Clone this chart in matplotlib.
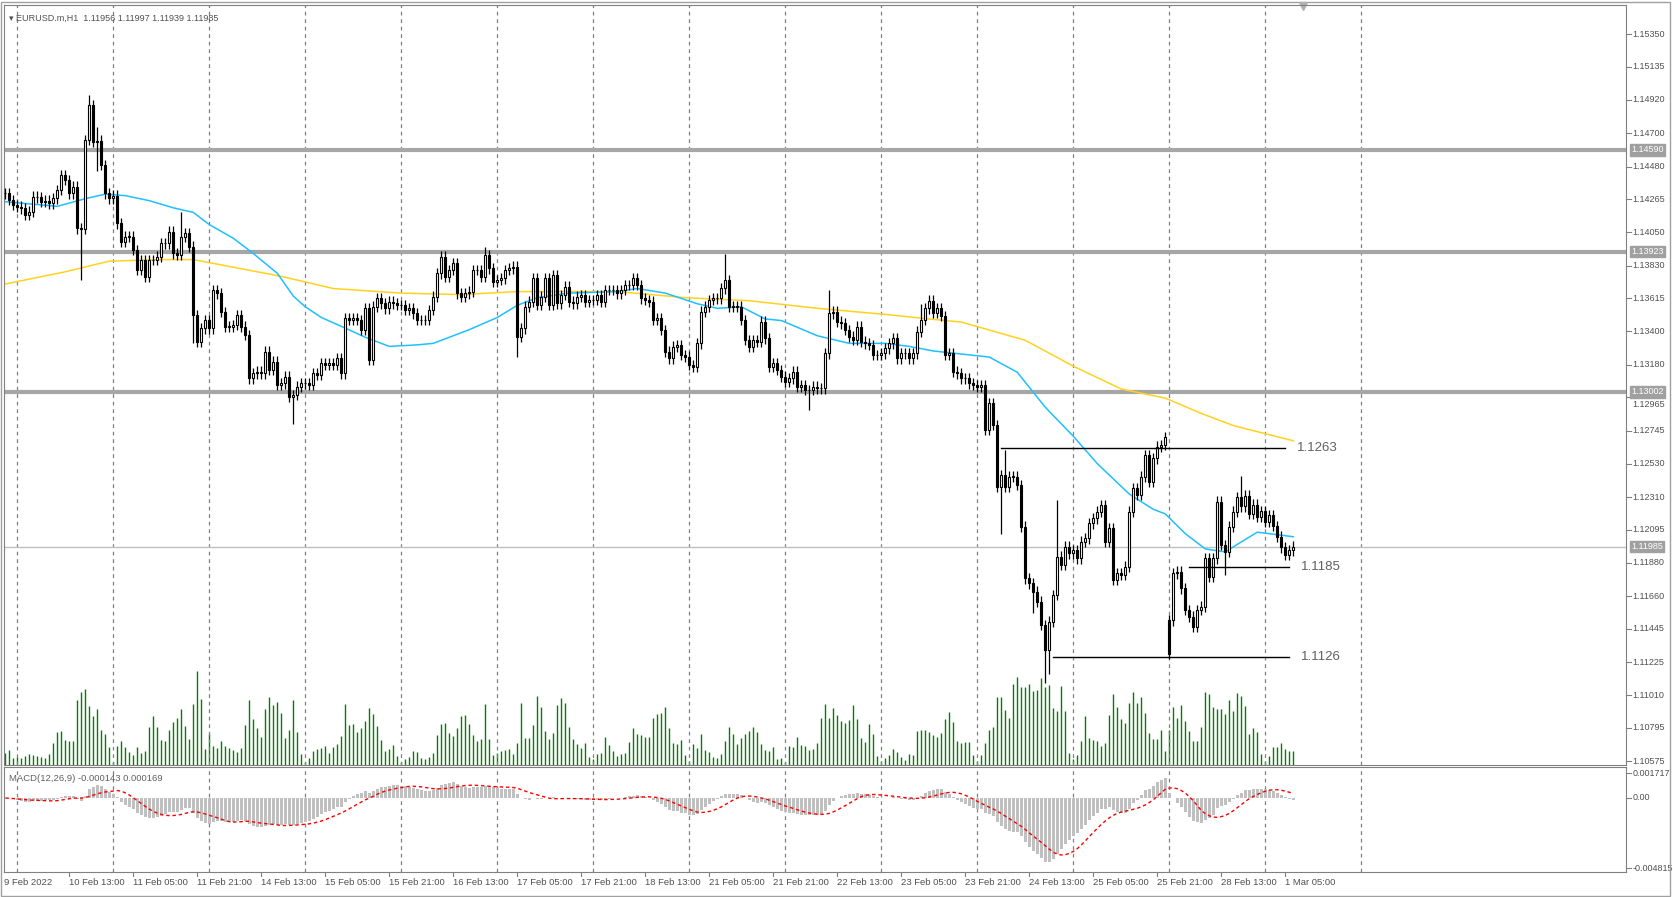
import numpy as np
import pandas as pd
import matplotlib
matplotlib.use("Agg")
import matplotlib.pyplot as plt

plt.rcParams['font.family'] = ['Liberation Sans', 'DejaVu Sans']

# ---------------- data ----------------
closes = [
 1.14305,1.14261,1.14228,1.14217,1.14206,1.14162,1.14184,1.14283,1.14279,1.14250,1.14257,1.14239,1.14272,1.14327,1.14425,1.14392,1.14305,1.14349,
 1.14075,1.14070,1.14655,1.14885,1.14644,1.14650,1.14491,1.14305,1.14272,1.14290,
 1.14108,1.13987,1.14020,1.14020,1.13933,1.13801,1.13867,1.13757,1.13867,1.13867,1.13889,1.13976,1.13976,1.14053,1.13911,1.13900,1.14020,1.14042,1.13955,
 1.13506,1.13330,1.13418,1.13473,1.13418,1.13670,1.13648,1.13527,1.13429,1.13429,1.13440,1.13506,1.13429,1.13374,
 1.13090,1.13123,1.13134,1.13123,1.13265,1.13145,1.13199,1.13046,1.13057,1.13101,1.12969,1.12980,1.13035,1.13057,1.13057,1.13046,1.13123,1.13112,1.13188,1.13177,1.13188,1.13177,1.13221,1.13123,
 1.13484,1.13473,1.13484,1.13473,1.13407,1.13550,1.13210,1.13561,1.13615,1.13583,1.13550,1.13593,1.13583,1.13572,1.13572,1.13539,1.13550,1.13517,1.13473,1.13473,1.13473,1.13539,1.13626,1.13779,1.13889,1.13757,1.13801,1.13845,1.13648,
 1.13626,1.13648,1.13659,1.13801,1.13801,1.13757,1.13900,1.13812,1.13725,1.13736,1.13747,1.13801,1.13812,1.13823,1.13363,1.13418,1.13561,1.13593,1.13747,1.13572,
 1.13626,1.13747,1.13572,1.13768,1.13583,1.13637,1.13692,1.13593,1.13583,1.13626,1.13637,1.13593,1.13604,1.13604,1.13637,1.13593,1.13670,1.13670,1.13670,1.13648,
 1.13670,1.13703,1.13703,1.13747,1.13703,1.13615,1.13604,1.13593,1.13473,1.13484,1.13407,1.13265,1.13221,1.13298,1.13309,1.13243,1.13232,1.13177,1.13166,1.13320,
 1.13528,1.13561,1.13604,1.13615,1.13615,1.13681,1.13736,1.13561,1.13561,1.13561,1.13473,1.13342,1.13298,1.13342,1.13331,1.13462,1.13352,1.13166,1.13188,1.13145,
 1.13101,1.13068,1.13090,1.13134,1.13035,1.13046,1.13013,1.13013,1.13035,1.13024,1.13024,1.13254,1.13517,1.13528,1.13462,1.13451,1.13407,1.13363,1.13342,1.13429,
 1.13331,1.13320,1.13309,1.13243,1.13243,1.13254,1.13287,1.13320,1.13352,1.13221,1.13254,1.13254,1.13221,1.13254,1.13396,1.13473,1.13550,1.13600,1.13520,1.13550,1.13500,
 1.13243,1.13254,1.13133,1.13123,1.13090,1.13090,1.13057,1.13046,1.13035,1.13046,
 1.12751,1.12926,1.12783,1.12378,1.12455,1.12378,1.12444,1.12444,1.12390,1.12116,
 1.11777,1.11744,1.11690,1.11624,1.11470,1.11306,1.11492,1.11668,1.11919,1.11865,
 1.11985,1.11941,1.11963,1.11908,1.12017,1.12039,1.12138,1.12171,1.12214,1.12258,
 1.12017,1.12105,1.11766,1.11810,1.11799,1.11854,1.12214,1.12368,1.12324,1.12444,
 1.12587,1.12411,1.12565,1.12641,1.12652,1.12706,
 1.11280,1.11810,1.11821,1.11712,1.11569,1.11525,1.11459,1.11569,1.11590,1.11908,1.11788,1.11908,1.12280,1.11996,1.11952,1.12116,1.12214,1.12312,
 1.1225,1.1232,1.1220,1.1226,1.1218,1.1222,1.1215,1.1219,1.1212,1.1205,1.1198,1.1193,1.1196,1.11985,
]
gap_opens = {291: 1.11500, 292: 1.11500}
wick_highs = {18: 1.1436, 21: 1.1495, 22: 1.1489, 23: 1.1474, 44: 1.1418, 120: 1.13956,
              180: 1.13905, 206: 1.1367, 229: 1.1358, 250: 1.1262, 263: 1.1229,
              290: 1.12731, 303: 1.1232, 309: 1.1245}
wick_lows = {19: 1.13735, 23: 1.1445, 47: 1.1332, 72: 1.1279, 128: 1.13232, 171: 1.1315,
             201: 1.1288, 249: 1.1207, 254: 1.1210, 257: 1.11546, 260: 1.1109,
             261: 1.1115, 291: 1.1126, 305: 1.1180}
default_wick = 0.00035

volumes = [
 36,46,20,25,20,26,32,29,26,23, 20,32,65,98,101,76,71,71,194,218,
 227,177,147,167,104,92,53,8,56,71, 53,38,29,53,35,41,113,146,113,74,
 71,104,128,140,167,116,77,182,281,197, 47,92,56,50,71,56,50,44,38,50,
 119,194,137,110,83,167,203,179,188,155, 80,104,194,98,32,8,20,41,47,50,
 56,35,53,62,86,182,119,122,98,110, 131,170,152,116,74,41,47,59,26,8,
 17,23,41,38,20,17,23,35,89,122, 125,95,86,110,146,149,122,89,71,77,
 182,77,29,35,41,44,47,32,65,185,80, 80,119,206,173,101,77,95,179,200,185,
 113,77,62,50,65,23,17,32,35,83, 59,41,26,32,35,68,110,92,
 90,84,83,141,153,155,174,111,66,63, 75,30,12,63,51,93,45,40,23,20,
 33,71,114,93,63,80,94,102,114,98, 63,44,41,53,18,21,9,56,53,83,
 59,56,45,47,65,141,182,141,171,150, 132,127,135,180,138,81,68,123,92,26,
 12,21,30,49,38,23,14,32,29,101, 104,104,99,90,84,96,137,159,129,72,
 66,69,68,29,12,29,66,105,113,204, 204,164,141,242,263,233,234,242,222,225,
 260,233,240,171,162,236,162,36,18,30, 72,147,81,75,72,57,66,150,213,174,
 138,125,186,218,184,204,156,96,78,78, 104,42,105,174,141,180,131,102,72,72,
 114,218,213,174,168,168,153,195,162,216, 207,176,93,111,100,33,11,26,53,53,
 65,48,42,42,30,
]

ma_fast_idx = [0,13,20,25,30,36,42,47,51,57,62,68,72,75,79,85,90,96,103,107,111,116,123,128,133,141,153,158,165,173,178,184,190,194,203,211,220,226,232,246,253,260,267,273,281,287,290,295,300,305,308,313,322]
ma_fast_val = [1.1425,1.1422,1.1427,1.1430,1.1429,1.14257,1.1421,1.1418,1.1410,1.1401,1.1391,1.1378,1.1363,1.1356,1.1349,1.1342,1.1336,1.1330,1.1331,1.1332,1.1336,1.1341,1.1349,1.1357,1.1362,1.1365,1.1366,1.1368,1.1365,1.1358,1.1355,1.1356,1.1348,1.1347,1.1337,1.1332,1.1332,1.1330,1.1327,1.1323,1.1313,1.1290,1.1271,1.1253,1.1233,1.1223,1.1220,1.1207,1.1197,1.1195,1.1200,1.1208,1.1205]
ma_slow_idx = [0,15,26,39,47,57,69,82,99,114,128,153,170,186,203,220,231,239,255,267,279,290,299,307,322]
ma_slow_val = [1.1371,1.1379,1.1386,1.1387,1.1387,1.1382,1.1376,1.1368,1.1365,1.1364,1.1366,1.1366,1.1362,1.1360,1.1355,1.1351,1.1348,1.1346,1.1334,1.1317,1.1302,1.1296,1.1286,1.1278,1.1268]

hlines_thick = [1.14590, 1.13923, 1.13002]
current_price = 1.11985
levels = [1.1263, 1.1185, 1.1126]
level_ranges = [(249, 320), (296, 321), (262, 321)]

price_ticks = [1.15350,1.15135,1.14920,1.14700,1.14480,1.14265,1.14050,1.13830,1.13615,1.13400,1.13180,
               1.12965,1.12745,1.12530,1.12310,1.12095,1.11880,1.11660,1.11445,1.11225,1.11010,1.10795,1.10575]
time_labels = ["10 Feb 13:00","11 Feb 05:00","11 Feb 21:00","14 Feb 13:00","15 Feb 05:00","15 Feb 21:00",
               "16 Feb 13:00","17 Feb 05:00","17 Feb 21:00","18 Feb 13:00","21 Feb 05:00","21 Feb 21:00",
               "22 Feb 13:00","23 Feb 05:00","23 Feb 21:00","24 Feb 13:00","25 Feb 05:00","25 Feb 21:00",
               "28 Feb 13:00","1 Mar 05:00"]

# ---------------- derived ----------------
N = len(closes)
c = np.array(closes)
o = np.concatenate([[c[0]], c[:-1]])
for k, v in gap_opens.items():
    o[k] = v
hi = np.maximum(o, c) + default_wick
lo = np.minimum(o, c) - default_wick
for k, v in wick_highs.items():
    hi[k] = max(hi[k], v)
for k, v in wick_lows.items():
    lo[k] = min(lo[k], v)
x = np.arange(N)
vol = np.array(volumes[:N])

s = pd.Series(c)
ema12 = s.ewm(span=12, adjust=False).mean()
ema26 = s.ewm(span=26, adjust=False).mean()
macd = (ema12 - ema26).values
signal = pd.Series(macd).rolling(9, min_periods=1).mean().values

# ---------------- figure ----------------
W, H = 1673, 897
fig = plt.figure(figsize=(W/100, H/100), dpi=100)
fig.patch.set_facecolor('white')

def fx(px): return px / W
def fy(py): return 1 - py / H

xl = 4; xr = 1626
ax = fig.add_axes([fx(xl), fy(765), fx(xr - xl), fy(5) - fy(765)])
axm = fig.add_axes([fx(xl), fy(872), fx(xr - xl), fy(767) - fy(872)])

bars_px = 4.0
xlim = (-0.33, -0.33 + (xr - xl) / bars_px)
p_top, p_bot = 1.15542, 1.10551

gray = '#808080'
lblc = '#505050'
fs = 6.5
grid_bars = [3 + 24 * k for k in range(15)]

# volume (twin axis)
axv = ax.twinx()
axv.set_ylim(0, 281 * 760 / 94)
axv.vlines(x, 0, vol, color='#008000', lw=1.0)
axv.set_yticks([])
axv.set_zorder(0)
ax.set_zorder(1)
ax.patch.set_visible(False)

ax.set_xlim(*xlim); ax.set_ylim(p_bot, p_top)
axv.set_xlim(*xlim)
for gb in grid_bars:
    ax.axvline(gb, color=gray, lw=0.9, ls=(0, (3, 3)), zorder=0.5)
    axm.axvline(gb, color=gray, lw=0.9, ls=(0, (3, 3)), zorder=0.5)

for hl in hlines_thick:
    ax.axhline(hl, color='#a6a6a6', lw=3.0, zorder=1)
ax.axhline(current_price, color='#c0c0c0', lw=1.0, zorder=1)

ax.plot(ma_slow_idx, ma_slow_val, color='#ffd21f', lw=1.1, zorder=2)
ax.plot(ma_fast_idx, ma_fast_val, color='#1ec0ff', lw=1.1, zorder=2)

ax.vlines(x, lo, hi, color='black', lw=0.9, zorder=3)
up = c >= o
body_b = np.minimum(o, c)
body_h = np.maximum(np.abs(c - o), 0.00003)
ax.bar(x[up], body_h[up], bottom=body_b[up], width=0.55, color='white', edgecolor='black', lw=0.8, zorder=4)
ax.bar(x[~up], body_h[~up], bottom=body_b[~up], width=0.55, color='black', edgecolor='black', lw=0.8, zorder=4)

for lv, (a, b) in zip(levels, level_ranges):
    ax.plot([a, b], [lv, lv], color='black', lw=1.0, zorder=5)
    ax.text(b + 3, lv, f"{lv:.4f}", color='#606060', fontsize=9.5, va='center', ha='left', zorder=6)

ax.set_xticks([]); ax.set_yticks([])
for sp in ax.spines.values():
    sp.set_color(gray)
for sp in axv.spines.values():
    sp.set_visible(False)

# price axis labels
def py_of(t): return (t - p_bot) / (p_top - p_bot)
boxed = hlines_thick + [current_price]
for t in price_ticks:
    yy = py_of(t)
    ax.plot([1.0, 1.003], [yy, yy], transform=ax.transAxes, color=gray, lw=0.8, clip_on=False)
    # nudge a label that sits right under a boxed level label
    near = [b for b in boxed if abs(py_of(b) - yy) < 0.016]
    if near:
        yy = py_of(near[0]) - 0.017 if yy < py_of(near[0]) else py_of(near[0]) + 0.017
    ax.text(1.004, yy, f"{t:.5f}", transform=ax.transAxes, fontsize=fs, color=lblc, va='center', ha='left')
for t in boxed:
    yy = py_of(t)
    ax.text(1.003, yy, f"{t:.5f}", transform=ax.transAxes, fontsize=fs, color='white', va='center', ha='left',
            zorder=10, bbox=dict(boxstyle='square,pad=0.15', fc='#a0a0a0', ec='#a0a0a0'))

ax.text(0.003, 0.988, "\u25BE EURUSD.m,H1  1.11956 1.11997 1.11939 1.11985", transform=ax.transAxes,
        fontsize=6.5, color=lblc, va='top', ha='left')
ax.plot([324.5], [p_top - 0.00005], marker='v', color='#b0b0b0', ms=6, clip_on=False)

# MACD panel
axm.set_xlim(*xlim)
m_top, m_bot = 0.00213, -0.00509
axm.set_ylim(m_bot, m_top)
axm.bar(x, macd, width=0.75, color='#c0c0c0', zorder=2)
axm.plot(x, signal, color='red', lw=1.0, ls=(0, (2.5, 2)), zorder=3)
axm.set_xticks([]); axm.set_yticks([])
for sp in axm.spines.values():
    sp.set_color(gray)
for t, lab in [(0.001717, "0.001717"), (0.0, "0.00"), (-0.004815, "-0.004815")]:
    yy = (t - m_bot) / (m_top - m_bot)
    axm.plot([1.0, 1.003], [yy, yy], transform=axm.transAxes, color=gray, lw=0.8, clip_on=False)
    axm.text(1.004, yy, lab, transform=axm.transAxes, fontsize=fs, color=lblc, va='center', ha='left')
axm.text(0.003, 0.93, "MACD(12,26,9) -0.000143 0.000169", transform=axm.transAxes,
         fontsize=6.8, color='#606060', va='top', ha='left')

# time labels
axm.text(-0.3, -0.06, "9 Feb 2022", transform=axm.get_xaxis_transform(), fontsize=6.8, color=lblc,
         va='top', ha='left')
for k, lab in enumerate(time_labels):
    b = 15 + 16 * k
    axm.plot([b + 0.8, b + 0.8], [-0.0, -0.04], transform=axm.get_xaxis_transform(), color=gray, lw=0.8, clip_on=False)
    axm.text(b + 0.8, -0.06, lab, transform=axm.get_xaxis_transform(), fontsize=6.8, color=lblc,
             va='top', ha='left')

# outer frame
fig.add_artist(plt.Rectangle((0.0005, 0.001), 0.998, 0.997, transform=fig.transFigure, fill=False, ec='#a0a0a0', lw=1))

fig.savefig("out.png", dpi=100)
